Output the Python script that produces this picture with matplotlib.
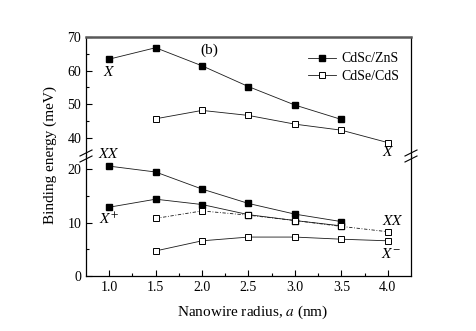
import matplotlib
matplotlib.use("Agg")
import matplotlib.pyplot as plt
from matplotlib.lines import Line2D

plt.rcParams['font.family'] = ['Liberation Serif', 'DejaVu Serif']
plt.rcParams['mathtext.fontset'] = 'stix'

# Data
radius_znS = [1.0, 1.5, 2.0, 2.5, 3.0, 3.5]
radius_cdS = [1.5, 2.0, 2.5, 3.0, 3.5, 4.0]
znS_X = [63.4, 66.8, 61.4, 55.2, 49.7, 45.4]
cdS_X = [45.6, 48.1, 46.6, 44.0, 42.2, 38.5]
znS_XX = [20.6, 19.5, 16.3, 13.6, 11.6, 10.2]
znS_Xp = [12.9, 14.4, 13.4, 11.5, 10.4, 9.4]
cdS_XX = [10.8, 12.2, 11.4, 10.4, 9.3, 8.3]
cdS_Xm = [4.7, 6.6, 7.3, 7.3, 6.9, 6.6]
xticks = [1.0, 1.5, 2.0, 2.5, 3.0, 3.5, 4.0]

W, H = 477, 331
fig = plt.figure(figsize=(W/100, H/100), dpi=100)
L, R, B, T, BRK = 86/W, 411/W, 1-276/H, 1-37/H, 1-156/H
ax_top = fig.add_axes([L, BRK, R-L, T-BRK])
ax_bot = fig.add_axes([L, B, R-L, BRK-B])

lw = 0.6
filled = dict(marker='s', ms=5, mfc='black', mec='black', color='0.1', lw=lw)
opened = dict(marker='s', ms=4.5, mfc='white', mec='black', mew=0.7, color='0.1', lw=lw)

ax_top.plot(radius_znS, znS_X, **filled)
ax_top.plot(radius_cdS, cdS_X, **opened)

ax_bot.plot(radius_znS, znS_XX, **filled)
ax_bot.plot(radius_znS, znS_Xp, **filled)
ax_bot.plot(radius_cdS, cdS_XX, ls=(0, (4, 2, 1, 2)), **opened)
ax_bot.plot(radius_cdS, cdS_Xm, **opened)

for ax in (ax_top, ax_bot):
    ax.set_xlim(0.75, 4.25)
    ax.tick_params(direction='in', labelsize=10, length=4, width=0.8)
    ax.tick_params(which='minor', direction='in', length=2.5, width=0.8)
    for s in ax.spines.values():
        s.set_linewidth(0.9)

ax_top.set_ylim(34.5, 70)
ax_top.set_yticks([40, 50, 60, 70])
ax_top.set_yticks([45, 55, 65], minor=True)
ax_top.spines['bottom'].set_visible(False)
ax_top.spines['top'].set_linewidth(1.8)
ax_top.spines['top'].set_color('0.35')
ax_top.set_xticks([])
ax_top.tick_params(axis='x', which='both', bottom=False, labelbottom=False)

ax_bot.set_ylim(0, 22.5)
ax_bot.set_yticks([0, 10, 20])
ax_bot.set_yticks([5, 15], minor=True)
ax_bot.spines['top'].set_visible(False)
ax_bot.set_xticks(xticks)
ax_bot.set_xticklabels([f"{v:.1f}" for v in xticks])
ax_bot.set_xticks([1.25, 1.75, 2.25, 2.75, 3.25, 3.75], minor=True)

# labels
tk = dict(fontsize=11, ha='center', va='center')
ax_top.text(1.0, 59.6, '$X$', **tk)
ax_top.text(2.08, 66.0, '(b)', fontsize=11, ha='center', va='center')
ax_top.text(4.0, 35.6, '$X$', clip_on=False, **tk)
ax_bot.text(1.0, 22.8, '$XX$', clip_on=False, **tk)
ax_bot.text(1.0, 10.6, '$X^{+}$', **tk)
ax_bot.text(4.06, 10.4, '$XX$', **tk)
ax_bot.text(4.03, 4.1, '$X^{-}$', **tk)

# break marks
for xf in (L, R):
    for dy in (-3, 3):
        y0 = BRK + dy/H
        fig.add_artist(Line2D([xf-6/W, xf+6/W], [y0-3/H, y0+3/H], color='black', lw=0.8))

fig.text(50/W, 1-155/H, 'Binding energy (meV)', rotation=90, ha='center', va='center', fontsize=11)
fig.text(253/W, 1-312/H, 'Nanowire radius, $a$ (nm)', ha='center', va='center', fontsize=11)

handles = [Line2D([], [], **filled), Line2D([], [], **opened)]
ax_top.legend(handles, ['CdSc/ZnS', 'CdSe/CdS'], loc='upper right', bbox_to_anchor=(0.99, 0.94),
              frameon=False, fontsize=10, handlelength=2.0, handletextpad=0.4, labelspacing=0.3,
              borderaxespad=0.2)

fig.savefig('out.png', dpi=100)
